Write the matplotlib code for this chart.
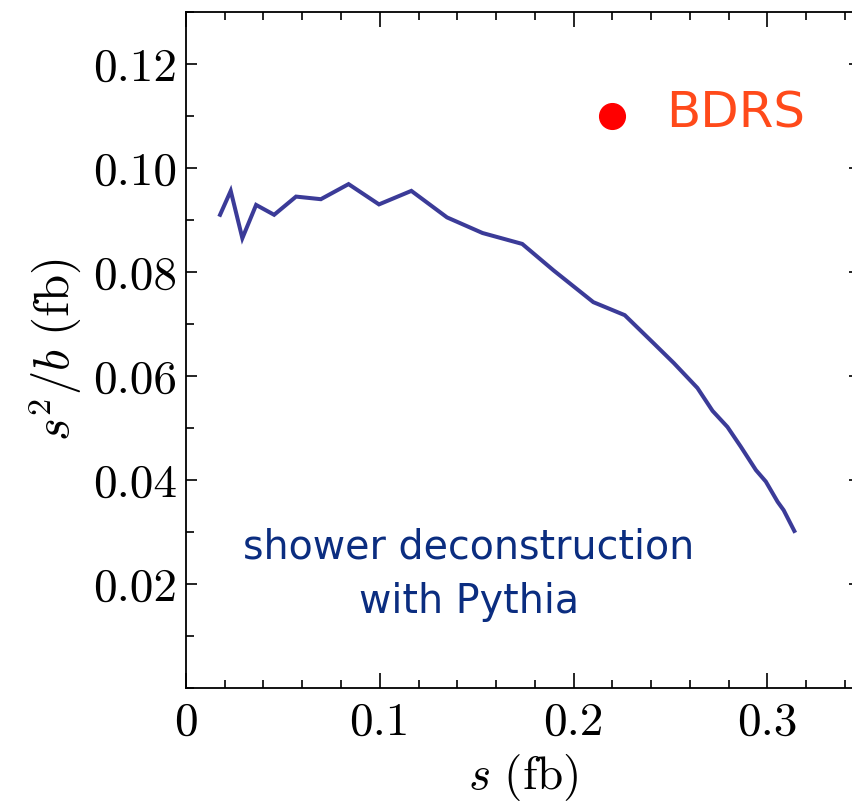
import numpy as np
import matplotlib
matplotlib.use("Agg")
import matplotlib.pyplot as plt
from matplotlib.ticker import MultipleLocator

plt.rcParams["mathtext.fontset"] = "cm"
plt.rcParams["font.family"] = "serif"
plt.rcParams["font.serif"] = ["cmr10", "DejaVu Serif"]
plt.rcParams["axes.formatter.use_mathtext"] = True

# shower deconstruction curve (s, s^2/b)
S = [0.0176, 0.0231, 0.0291, 0.0362, 0.0455, 0.0568, 0.0696, 0.0839, 0.0996,
     0.1163, 0.1347, 0.1530, 0.1735, 0.1897, 0.2102, 0.2264, 0.2413, 0.2517,
     0.2639, 0.2717, 0.2794, 0.2863, 0.2941, 0.2992, 0.3053, 0.3084, 0.3139]
S2B = [0.0910, 0.0956, 0.0865, 0.0929, 0.0910, 0.0945, 0.0940, 0.0969, 0.0930,
       0.0956, 0.0905, 0.0875, 0.0854, 0.0803, 0.0742, 0.0717, 0.0663, 0.0625,
       0.0577, 0.0533, 0.0502, 0.0464, 0.0419, 0.0397, 0.0358, 0.0342, 0.0302]

# BDRS reference point
BDRS_S, BDRS_S2B = 0.220, 0.110

XTICKS = [0, 0.1, 0.2, 0.3]
XTICKLABELS = ["0", "0.1", "0.2", "0.3"]
YTICKS = [0.02, 0.04, 0.06, 0.08, 0.10, 0.12]
YTICKLABELS = ["0.02", "0.04", "0.06", "0.08", "0.10", "0.12"]

fig = plt.figure(figsize=(8.53, 8.10), dpi=100)
# right spine sits just past the image edge, as in the original
ax = fig.add_axes([0.218, 0.1506, 0.790, 0.8346])

ax.plot(S, S2B, color="#3b3b98", lw=2.9, solid_joinstyle="miter")
ax.plot([BDRS_S], [BDRS_S2B], "o", color="#ff0000", ms=18.5)

ax.text(0.248, 0.1105, "BDRS", color="#ff4a1a", fontsize=36,
        family="DejaVu Sans", ha="left", va="center")
ax.text(0.146, 0.0218, "shower deconstruction\nwith Pythia", color="#0b2d80",
        fontsize=28.5, family="DejaVu Sans", ha="center", va="center",
        linespacing=1.45)

ax.set_xlim(0, 0.3477)
ax.set_ylim(0, 0.13)
ax.set_xticks(XTICKS)
ax.set_xticklabels(XTICKLABELS)
ax.set_yticks(YTICKS)
ax.set_yticklabels(YTICKLABELS)
ax.xaxis.set_minor_locator(MultipleLocator(0.02))
ax.yaxis.set_minor_locator(MultipleLocator(0.01))
ax.tick_params(which="both", direction="in", top=True, right=True,
               labelsize=34, width=1.2)
ax.tick_params(axis="x", which="major", length=11, pad=10)
ax.tick_params(axis="x", which="minor", length=6)
ax.tick_params(axis="y", which="major", length=8, pad=6)
ax.tick_params(axis="y", which="minor", length=6)
for sp in ax.spines.values():
    sp.set_linewidth(1.3)

ax.set_xlabel(r"$s\ (\mathrm{fb})$", fontsize=34, labelpad=6)
ax.set_ylabel(r"$s^2/b\ (\mathrm{fb})$", fontsize=35, labelpad=8)

fig.savefig("out.png", dpi=100)
